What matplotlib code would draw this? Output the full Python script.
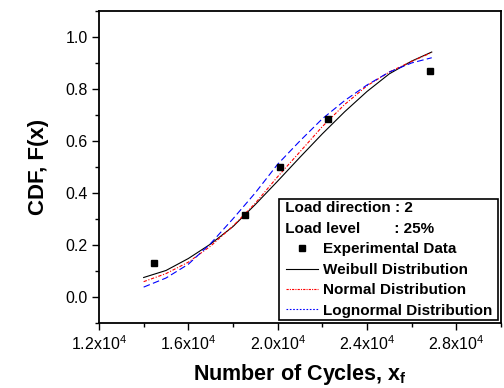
import matplotlib
matplotlib.use("Agg")
import matplotlib.pyplot as plt
from matplotlib.lines import Line2D
from matplotlib.legend_handler import HandlerLine2D
from matplotlib.font_manager import FontProperties
from matplotlib.ticker import MultipleLocator, FixedLocator

# --- data ---
exp_cycles = [14450, 18560, 20090, 22270, 26800]
exp_cdf = [0.13, 0.315, 0.50, 0.686, 0.869]

fit_cycles = [14000, 15000, 16000, 17000, 18000, 19000, 20000,
              21000, 22000, 23000, 24000, 25000, 26000, 26900]
weibull_cdf = [0.074, 0.101, 0.147, 0.203, 0.270, 0.355, 0.445,
               0.537, 0.627, 0.712, 0.790, 0.858, 0.907, 0.942]
normal_cdf = [0.058, 0.089, 0.133, 0.195, 0.272, 0.360, 0.462,
              0.558, 0.655, 0.740, 0.812, 0.865, 0.906, 0.940]
lognormal_cdf = [0.037, 0.072, 0.125, 0.205, 0.300, 0.400, 0.510,
                 0.600, 0.685, 0.755, 0.815, 0.865, 0.900, 0.920]

x_ticks = [12000, 16000, 20000, 24000, 28000]
x_ticklabels = ["1.2x10$^{4}$", "1.6x10$^{4}$", "2.0x10$^{4}$",
                "2.4x10$^{4}$", "2.8x10$^{4}$"]
y_ticks = [0.0, 0.2, 0.4, 0.6, 0.8, 1.0]

legend_title = " Load direction : 2\n Load level        : 25%"
legend_labels = ["Experimental Data", "Weibull Distribution",
                 "Normal Distribution", "Lognormal Distribution"]

FONT = "Liberation Sans"
plt.rcParams["font.family"] = [FONT, "DejaVu Sans"]
plt.rcParams["mathtext.default"] = "regular"

fig = plt.figure(figsize=(5.04, 3.88), dpi=100)
ax = fig.add_axes([0.1964, 0.1683, 0.7976, 0.8034])

ax.plot(fit_cycles, weibull_cdf, color="black", lw=0.8)
ax.plot(fit_cycles, normal_cdf, color="red", lw=0.8, ls=(0, (3, 1.5, 1, 1.5)))
ax.plot(fit_cycles, lognormal_cdf, color="blue", lw=0.8, ls=(0, (6, 3)))
ax.plot(exp_cycles, exp_cdf, ls="none", marker="s", ms=4.5, color="black")

ax.set_xlim(12000, 30000)
ax.set_ylim(-0.1, 1.1)
ax.xaxis.set_major_locator(FixedLocator(x_ticks))
ax.set_xticklabels(x_ticklabels)
ax.xaxis.set_minor_locator(MultipleLocator(2000))
ax.set_yticks(y_ticks)
ax.set_yticklabels([f"{v:.1f}" for v in y_ticks])
ax.yaxis.set_minor_locator(MultipleLocator(0.1))

ax.tick_params(which="both", direction="out", top=False, right=False,
               width=1.0, labelsize=11.5)
ax.tick_params(which="major", length=5, pad=3)
ax.tick_params(which="minor", length=3)
for s in ax.spines.values():
    s.set_linewidth(1.3)

ax.set_xlabel("Number of Cycles, x$_{f}$", fontsize=15.5, fontweight="bold", labelpad=7)
ax.set_ylabel("CDF, F(x)", fontsize=16, fontweight="bold", labelpad=12)

# legend (frame spans 279..498 px across, bottom at 320 px)
leg_font = FontProperties(family=FONT, weight="bold", size=11)
handles = [
    Line2D([], [], ls="none", marker="s", ms=4.5, color="black"),
    Line2D([], [], color="black", lw=0.8),
    Line2D([], [], color="red", lw=0.8, ls=(0, (2, 1, 1, 1))),
    Line2D([], [], color="blue", lw=0.8, ls=(0, (1.5, 1.5))),
]
leg = ax.legend(handles, legend_labels, title=legend_title, alignment="left",
                loc="lower left", bbox_to_anchor=(0.4478, 0.0087, 0.5448, 0.0),
                mode="expand", borderaxespad=0, prop=leg_font,
                title_fontproperties=leg_font,
                handler_map={Line2D: HandlerLine2D(xpad=0.31)},
                frameon=True, fancybox=False, edgecolor="black", framealpha=1,
                handlelength=2.4, handletextpad=0.35, labelspacing=0.42,
                borderpad=0.15)
leg.get_frame().set_linewidth(1.2)
leg.get_title().set_linespacing(1.6)

fig.savefig("out.png", dpi=100)
